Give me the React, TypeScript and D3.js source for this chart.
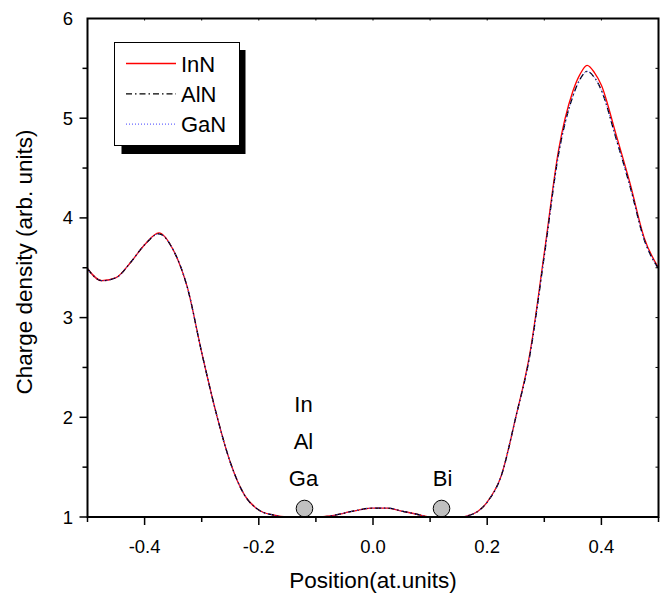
import React from "react";
import * as d3 from "d3";

const xs = [-0.5, -0.475, -0.45, -0.425, -0.4, -0.375, -0.35, -0.325, -0.3, -0.275, -0.25, -0.225, -0.2, -0.175, -0.15, -0.125, -0.1, -0.075, -0.05, -0.025, 0.0, 0.025, 0.05, 0.075, 0.1, 0.125, 0.15, 0.175, 0.2, 0.225, 0.25, 0.275, 0.3, 0.325, 0.35, 0.3625, 0.375, 0.3875, 0.4, 0.425, 0.45, 0.475, 0.5];
const inN = [3.49, 3.37, 3.4, 3.55, 3.73, 3.85, 3.68, 3.3, 2.65, 2.05, 1.55, 1.22, 1.07, 1.02, 1.0, 1.0, 1.0, 1.01, 1.04, 1.07, 1.09, 1.09, 1.06, 1.03, 1.0, 1.0, 1.0, 1.03, 1.15, 1.42, 2.0, 2.65, 3.65, 4.68, 5.27, 5.44, 5.53, 5.46, 5.33, 4.85, 4.35, 3.8, 3.5];
const alN = [3.49, 3.37, 3.4, 3.55, 3.73, 3.84, 3.68, 3.3, 2.65, 2.05, 1.55, 1.22, 1.07, 1.02, 1.0, 1.0, 1.0, 1.01, 1.04, 1.07, 1.09, 1.09, 1.06, 1.03, 1.0, 1.0, 1.0, 1.03, 1.15, 1.42, 2.0, 2.63, 3.62, 4.64, 5.22, 5.39, 5.47, 5.41, 5.28, 4.81, 4.32, 3.78, 3.49];
const gaN = [3.49, 3.37, 3.4, 3.55, 3.73, 3.84, 3.68, 3.3, 2.65, 2.05, 1.55, 1.22, 1.07, 1.02, 1.0, 1.0, 1.0, 1.01, 1.04, 1.07, 1.09, 1.09, 1.06, 1.03, 1.0, 1.0, 1.0, 1.03, 1.15, 1.42, 2.0, 2.63, 3.62, 4.64, 5.22, 5.39, 5.47, 5.41, 5.28, 4.81, 4.32, 3.78, 3.49];

const seriesNames = ["InN", "AlN", "GaN"];
const xTickLabels = [-0.4, -0.2, 0.0, 0.2, 0.4];
const yTickLabels = [1, 2, 3, 4, 5, 6];
const atomsLeft = ["In", "Al", "Ga"];
const atomsRight = ["Bi"];
const atomPositions = [-0.12, 0.12];

const W = 669, H = 597;
const L = 87.5, R = 658.5, T = 18.5, B = 517;
const FONT = "'Liberation Sans', Arial, sans-serif";

export default function App() {
  const x = d3.scaleLinear().domain([-0.5, 0.5]).range([L, R]);
  const y = d3.scaleLinear().domain([1, 6]).range([B, T]);
  const line = d3
    .line<number>()
    .x((_, i) => x(xs[i]))
    .y((d) => y(d))
    .curve(d3.curveMonotoneX);

  const styles = [
    { data: inN, stroke: "#ff0000", dash: undefined as string | undefined, w: 1.3 },
    { data: alN, stroke: "#000000", dash: "6,3,1.5,3", w: 1.3 },
    { data: gaN, stroke: "#4040ff", dash: "1,2", w: 1 },
  ];

  const xMinor = d3.range(-5, 6).map((k) => k / 10);
  const yMinor = d3.range(2, 12).map((k) => k / 2);

  return (
    <svg width={W} height={H} style={{ position: "absolute", left: 0, top: 0, background: "#fff" }} fontFamily={FONT}>
      <rect x={0} y={0} width={W} height={H} fill="#fff" />
      <g fill="none">
        {styles.map((s, i) => (
          <path key={i} d={line(s.data) || ""} stroke={s.stroke} strokeWidth={s.w} strokeDasharray={s.dash} />
        ))}
      </g>
      {atomPositions.map((p, i) => (
        <circle key={i} cx={x(p)} cy={B - 8.5} r={8.3} fill="#c0c0c0" stroke="#000" strokeWidth={1} />
      ))}
      {atomsLeft.map((t, i) => (
        <text key={t} x={x(atomPositions[0]) - 1} y={411.5 + i * 37} fontSize={22} textAnchor="middle">{t}</text>
      ))}
      {atomsRight.map((t) => (
        <text key={t} x={x(atomPositions[1]) + 1} y={485.5} fontSize={22} textAnchor="middle">{t}</text>
      ))}
      <rect x={L} y={T} width={R - L} height={B - T} fill="none" stroke="#000" strokeWidth={2} />
      {xMinor.map((v, i) => {
        const major = Math.abs(Math.round(v * 10)) % 2 === 0;
        return <line key={"bx" + i} x1={x(v)} x2={x(v)} y1={B} y2={B + (major ? 8 : 5)} stroke="#000" strokeWidth={1.5} />;
      })}
      {xMinor.map((v, i) => (
        <line key={"tx" + i} x1={x(v)} x2={x(v)} y1={T} y2={T + 2} stroke="#000" strokeWidth={1} />
      ))}
      {yMinor.map((v, i) => {
        const major = Number.isInteger(v);
        return <line key={"ly" + i} x1={L - (major ? 8 : 5)} x2={L} y1={y(v)} y2={y(v)} stroke="#000" strokeWidth={1.5} />;
      })}
      {yMinor.map((v, i) => (
        <line key={"ry" + i} x1={R - 3} x2={R} y1={y(v)} y2={y(v)} stroke="#000" strokeWidth={1} />
      ))}
      {xTickLabels.map((v) => (
        <text key={"xl" + v} x={x(v)} y={553} fontSize={18.5} textAnchor="middle">{v.toFixed(1)}</text>
      ))}
      {yTickLabels.map((v) => (
        <text key={"yl" + v} x={73} y={y(v) + 6.5} fontSize={18.5} textAnchor="end">{v}</text>
      ))}
      <text x={(L + R) / 2} y={588} fontSize={22.5} textAnchor="middle">Position(at.units)</text>
      <text transform={`translate(32, 262) rotate(-90)`} fontSize={22.5} textAnchor="middle">Charge density (arb. units)</text>
      <rect x={121.5} y={50} width={124} height={104} fill="#000" />
      <rect x={114.5} y={42.5} width={125} height={103} fill="#fff" stroke="#000" strokeWidth={1} />
      {seriesNames.map((n, i) => (
        <g key={n}>
          <line x1={126} x2={176} y1={63.5 + i * 30.3} y2={63.5 + i * 30.3} stroke={styles[i].stroke} strokeWidth={styles[i].w} strokeDasharray={styles[i].dash} />
          <text x={181} y={71.5 + i * 30.3} fontSize={22}>{n}</text>
        </g>
      ))}
    </svg>
  );
}
